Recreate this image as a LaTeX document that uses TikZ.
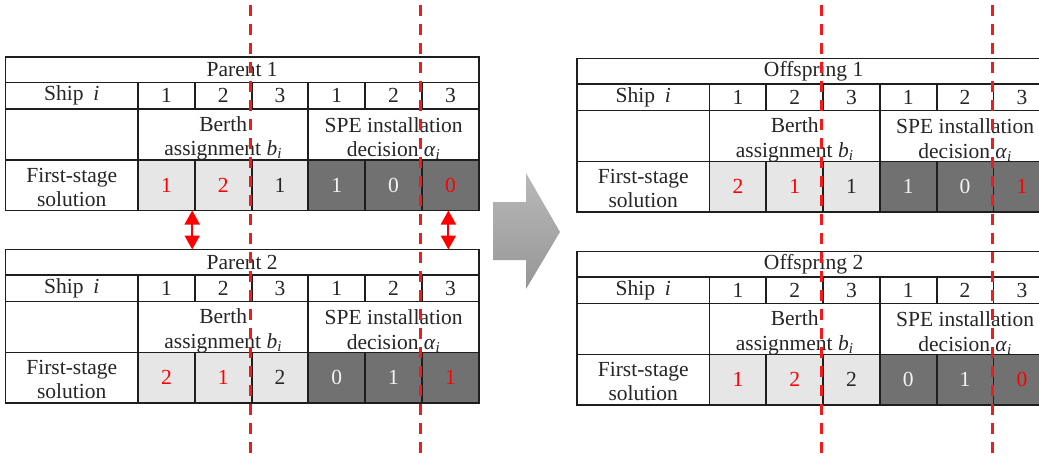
\documentclass[tikz,border=0pt]{standalone}
\usepackage{fontspec}
\setmainfont{Liberation Serif}
\usetikzlibrary{arrows.meta}

\definecolor{gridline}{HTML}{1E1E1E}
\definecolor{lightcell}{HTML}{E6E6E6}
\definecolor{darkcell}{HTML}{717171}
\definecolor{inktext}{HTML}{262626}
\definecolor{paletext}{HTML}{F4F4F4}
\definecolor{cutred}{HTML}{F21B1B}
\definecolor{hotred}{HTML}{FF0000}
\definecolor{shadetop}{HTML}{B9B9B9}
\definecolor{shadebot}{HTML}{969696}

\newcommand\tblfont{\fontsize{21.5pt}{24.3pt}\selectfont}

\tikzset{
  cell/.style={draw=gridline, line width=1.9pt, inner sep=0pt, outer sep=0pt,
               anchor=north west, font=\tblfont, text=inktext},
  celltext/.style={inner sep=0pt, font=\tblfont, text=inktext, align=center},
  cutline/.style={draw=cutred, line width=2.6pt, dash pattern=on 11pt off 8pt},
  swaparrow/.style={draw=hotred, line width=2pt,
    {Triangle[width=15pt,length=14pt]}-{Triangle[width=15pt,length=14pt]}},
}

% One chromosome table: #1 name prefix, #2 top-left corner, #3 title,
% #4 first-stage genes as fill/text/value triples
\newcommand\gatable[4]{%
  \begin{scope}[shift={#2}]
    \node[cell, minimum width=473.3pt, minimum height=25.5pt] (#1-title) at (0,0)
      {\raisebox{-1.5pt}{#3}};
    \node[cell, minimum width=132.5pt, minimum height=26.5pt] (#1-ship) at (0,25.5)
      {Ship\hspace{0.45em}\textit{i}};
    \foreach \v [count=\k] in {1,2,3,1,2,3}
      \node[cell, minimum width=56.8pt, minimum height=26.5pt] (#1-i\k)
        at ({132.5+(\k-1)*56.8},25.5) {\v};
    \node[cell, minimum width=132.5pt, minimum height=51pt] (#1-blank) at (0,52) {};
    \node[cell, minimum width=170.4pt, minimum height=51pt] (#1-berth) at (132.5,52) {};
    \node[cell, minimum width=170.4pt, minimum height=51pt] (#1-spe) at (302.9,52) {};
    \node[cell, minimum width=132.5pt, minimum height=50.5pt] (#1-sol) at (0,103) {};
    \foreach \f/\c/\v [count=\k] in {#4}
      \node[cell, fill=\f, text=\c, minimum width=56.8pt, minimum height=50.5pt] (#1-s\k)
        at ({132.5+(\k-1)*56.8},103) {\v};
    \node[celltext] (#1-berthtext) at ([yshift=-4pt]#1-berth.center)
      {Berth\\assignment \textit{b}\textsubscript{\textit{i}}};
    \node[celltext] (#1-spetext) at ([yshift=-4pt]#1-spe.center)
      {SPE installation\\decision \textit{α}\textsubscript{\textit{i}}};
    \node[celltext] (#1-soltext) at ([yshift=-2pt]#1-sol.center) {First-stage\\solution};
  \end{scope}}

\begin{document}
\begin{tikzpicture}[x=1pt, y=-1pt]
  \useasboundingbox (0,0) rectangle (1039,459);
  \clip (0,0) rectangle (1039,459);
  \fill[white] (0,0) rectangle (1039,459);

  % parents
  \gatable{p1}{(5.5,57)}{Parent 1}{lightcell/hotred/1, lightcell/hotred/2, lightcell/inktext/1,
    darkcell/paletext/1, darkcell/paletext/0, darkcell/hotred/0}
  \gatable{p2}{(5.5,249.5)}{Parent 2}{lightcell/hotred/2, lightcell/hotred/1, lightcell/inktext/2,
    darkcell/paletext/0, darkcell/paletext/1, darkcell/hotred/1}

  % offspring
  \gatable{o1}{(577,58.5)}{Offspring 1}{lightcell/hotred/2, lightcell/hotred/1, lightcell/inktext/1,
    darkcell/paletext/1, darkcell/paletext/0, darkcell/hotred/1}
  \gatable{o2}{(577,251.5)}{Offspring 2}{lightcell/hotred/1, lightcell/hotred/2, lightcell/inktext/2,
    darkcell/paletext/0, darkcell/paletext/1, darkcell/hotred/0}

  % gene exchange between the parents
  \coordinate (swapA-top) at ([xshift=-2.6pt]p1-s1.south east);
  \coordinate (swapA-bot) at (swapA-top |- p2-title.north);
  \coordinate (swapB-top) at ([xshift=-2pt]p1-s6.south);
  \coordinate (swapB-bot) at (swapB-top |- p2-title.north);
  \draw[swaparrow] (swapA-top) -- (swapA-bot);
  \draw[swaparrow] (swapB-top) -- (swapB-bot);

  % crossover arrow
  \shade[top color=shadetop, bottom color=shadebot]
    (493,202) -- (526,202) -- (526,173) -- (560,232) -- (526,289) -- (526,260) -- (493,260) -- cycle;

  % crossover cut points
  \foreach \x [count=\n] in {250.7, 420.7, 821.7, 992.7} {
    \coordinate (cut\n-top) at (\x,5);
    \coordinate (cut\n-bot) at (\x,457);
    \draw[cutline] (cut\n-top) -- (cut\n-bot);
  }
\end{tikzpicture}
\end{document}
